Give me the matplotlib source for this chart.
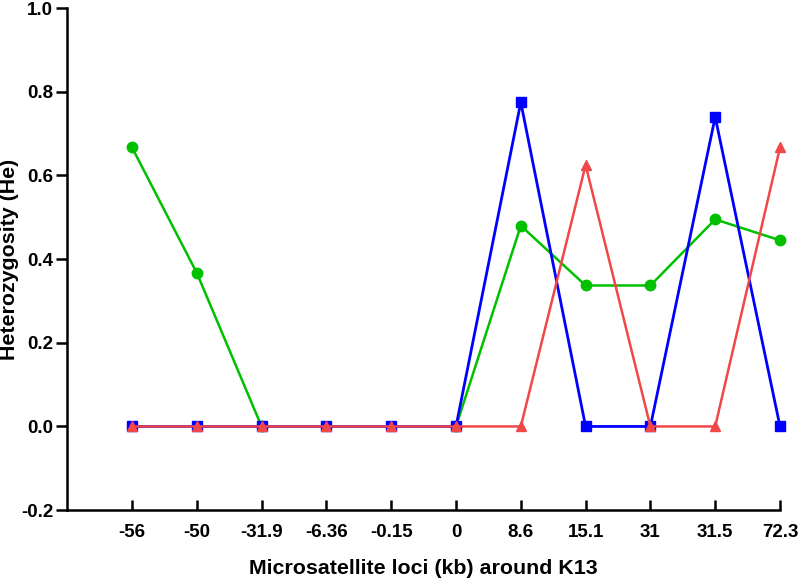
import numpy as np
import matplotlib
matplotlib.use("Agg")
import matplotlib.pyplot as plt

plt.rcParams['font.family'] = ['Liberation Sans', 'DejaVu Sans']
plt.rcParams['font.weight'] = 'bold'

loci = ["-56", "-50", "-31.9", "-6.36", "-0.15", "0", "8.6", "15.1", "31", "31.5", "72.3"]
he_green = [0.667, 0.367, 0.0, 0.0, 0.0, 0.0, 0.48, 0.337, 0.337, 0.495, 0.445]
he_blue = [0.0, 0.0, 0.0, 0.0, 0.0, 0.0, 0.775, 0.0, 0.0, 0.74, 0.0]
he_red = [0.0, 0.0, 0.0, 0.0, 0.0, 0.0, 0.0, 0.625, 0.0, 0.0, 0.667]
# green curve only drawn from -56 to -31.9 and again from 0 onward
green_shown = [True, True, True, False, False, True, True, True, True, True, True]

x = np.arange(len(loci))

fig = plt.figure(figsize=(8, 5.81), dpi=100)
ax = fig.add_axes([0.084, 0.122, 0.891, 0.864])

gy = np.array(he_green, dtype=float)
gy_line = np.where(np.array(green_shown), gy, np.nan)
ax.plot(x, gy_line, color='#00c000', lw=1.8, marker='o', ms=7.5, zorder=2, clip_on=False)
ax.plot(x, he_blue, color='#0000ff', lw=2.0, marker='s', ms=7, zorder=3, clip_on=False)
ax.plot(x, he_red, color='#f04848', lw=1.8, marker='^', ms=7.5, zorder=4, clip_on=False)

ax.set_xlim(-1, len(loci) - 1)
ax.set_ylim(-0.2, 1.0)
ax.set_yticks([-0.2, 0.0, 0.2, 0.4, 0.6, 0.8, 1.0])
ax.set_yticklabels(["-0.2", "0.0", "0.2", "0.4", "0.6", "0.8", "1.0"])
ax.set_xticks(x)
ax.set_xticklabels(loci)

for s in ['top', 'right']:
    ax.spines[s].set_visible(False)
for s in ['left', 'bottom']:
    ax.spines[s].set_linewidth(1.8)

ax.tick_params(axis='y', direction='out', length=8, width=1.8, labelsize=13.5, pad=2)
ax.tick_params(axis='x', direction='in', length=7, width=1.8, labelsize=13.5, pad=10)
for lbl in ax.get_xticklabels() + ax.get_yticklabels():
    lbl.set_fontweight('bold')

ax.set_xlabel("Microsatellite loci (kb) around K13", fontsize=15.4, fontweight='bold')
ax.set_ylabel("Heterozygosity (He)", fontsize=15.4, fontweight='bold')
ax.xaxis.set_label_coords(0.5, -0.097)
ax.yaxis.set_label_coords(-0.068, 0.5)

fig.savefig("out.png", dpi=100)
